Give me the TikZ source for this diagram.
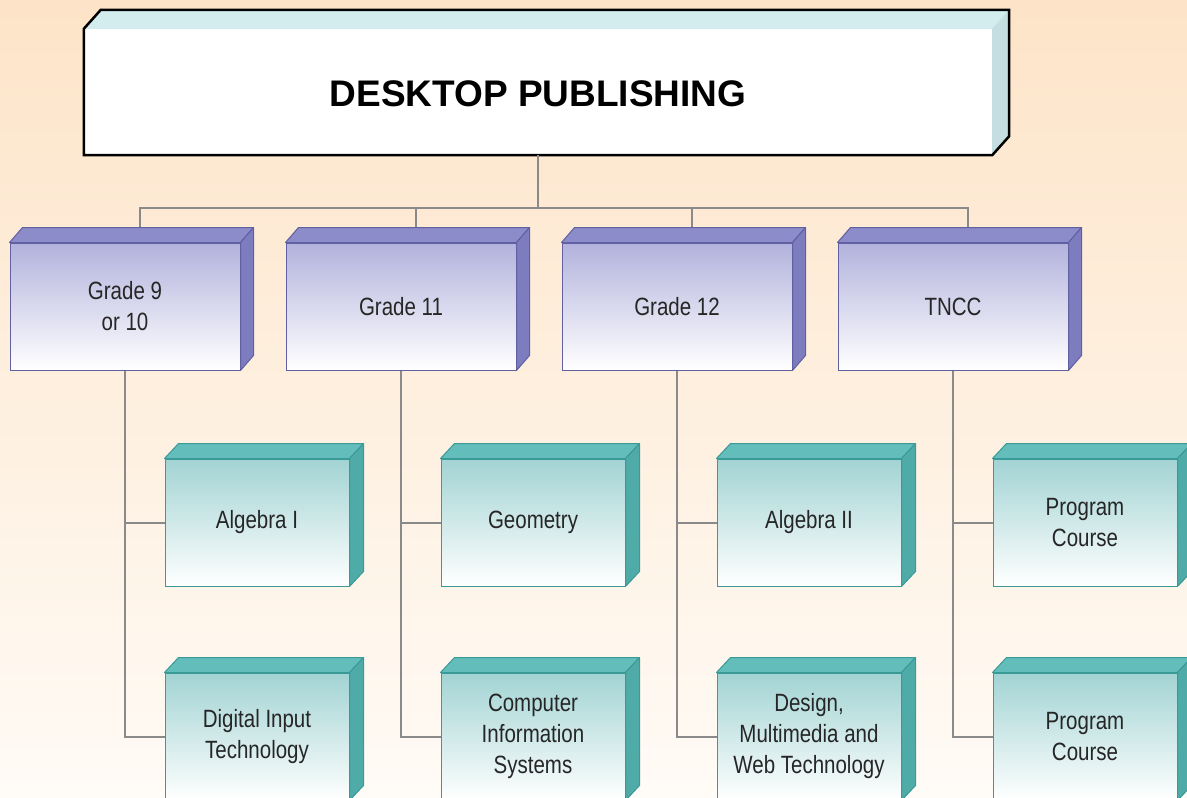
\documentclass[tikz,border=0pt]{standalone}
\usepackage{fontspec}
\setmainfont{Liberation Sans}
\newfontfamily\narrowfont[FakeStretch=0.82]{Liberation Sans}
\usetikzlibrary{calc}
\definecolor{bgtop}{HTML}{FDE4C8}
\definecolor{bgbot}{HTML}{FFFBF6}
\definecolor{gfront}{HTML}{B2B2DD}
\definecolor{gtop}{HTML}{8C8CCB}
\definecolor{gside}{HTML}{7C7CBF}
\definecolor{gline}{HTML}{6060A2}
\definecolor{tfront}{HTML}{A2D3D3}
\definecolor{ttop}{HTML}{63BEBB}
\definecolor{tside}{HTML}{4FABA8}
\definecolor{tline}{HTML}{3A9A97}
\definecolor{conn}{HTML}{8A8A8A}
\definecolor{txt}{HTML}{262626}
\definecolor{boxtop}{HTML}{D3ECEE}
\definecolor{boxside}{HTML}{C4DEE1}
\begin{document}
\begin{tikzpicture}[x=1pt,y=-1pt,
  titlebox/.style={fill=white, inner sep=0pt, minimum width=908pt, minimum height=126pt,
    font=\fontsize{37}{40}\selectfont\bfseries, text=black, text depth=0pt},
  gradebox/.style={draw=gline, line width=1pt, top color=gfront, bottom color=white,
    inner sep=0pt, minimum width=230pt, minimum height=127pt, align=center,
    font=\narrowfont\fontsize{25}{31}\selectfont, text=txt},
  coursebox/.style={draw=tline, line width=1pt, top color=tfront, bottom color=white,
    inner sep=0pt, minimum width=184pt, minimum height=127pt, align=center,
    font=\narrowfont\fontsize{25}{31}\selectfont, text=txt},
  gtopface/.style={fill=gtop, draw=gline, line width=1pt, line join=round},
  gsideface/.style={fill=gside, draw=gline, line width=1pt, line join=round},
  ttopface/.style={fill=ttop, draw=tline, line width=1pt, line join=round},
  tsideface/.style={fill=tside, draw=tline, line width=1pt, line join=round},
  connector/.style={draw=conn, line width=2pt}]
\useasboundingbox (0,0) rectangle (1187,798);
\fill[top color=bgtop, bottom color=bgbot] (0,0) rectangle (1187,798);

% title box
\node[titlebox] (title) at (538,92) {};
\node[font=\fontsize{37}{40}\selectfont\bfseries, text=black, anchor=base] (titletext) at (538,106) {DESKTOP PUBLISHING};
\fill[boxtop] (title.north west) -- ++(17,-19) -- ($(title.north east)+(17,-19)$) -- (title.north east) -- cycle;
\fill[boxside] (title.north east) -- ++(17,-19) -- ($(title.south east)+(17,-19)$) -- (title.south east) -- cycle;
\draw[line width=2.5pt, line join=miter] (title.north west) -- ++(17,-19) -- ($(title.north east)+(17,-19)$)
  -- ($(title.south east)+(17,-19)$) -- (title.south east) -- (title.south west) -- cycle;

% grade box positions
\coordinate (g1p) at (125,306.5);
\coordinate (g2p) at (401,306.5);
\coordinate (g3p) at (677,306.5);
\coordinate (g4p) at (953,306.5);

% connectors from title to grades
\foreach \x in {140,416,692,968} {
  \draw[connector] (title.south) -- ($(title.south)+(0,53)$) -| (\x,229);
}

\node[gradebox] (g1) at (g1p) {Grade 9\\or 10};
\node[gradebox] (g2) at (g2p) {Grade 11};
\node[gradebox] (g3) at (g3p) {Grade 12};
\node[gradebox] (g4) at (g4p) {TNCC};

\node[coursebox] (c11) at (257,522.5) {Algebra I};
\node[coursebox] (c12) at (257,736.5) {Digital Input\\Technology};
\node[coursebox] (c21) at (533,522.5) {Geometry};
\node[coursebox] (c22) at (533,736.5) {Computer\\Information\\Systems};
\node[coursebox] (c31) at (809,522.5) {Algebra II};
\node[coursebox] (c32) at (809,736.5) {Design,\\Multimedia and\\Web Technology};
\node[coursebox] (c41) at (1085,522.5) {Program\\Course};
\node[coursebox] (c42) at (1085,736.5) {Program\\Course};

% connectors grade -> courses
\foreach \g/\a/\b in {g1/c11/c12, g2/c21/c22, g3/c31/c32, g4/c41/c42} {
  \draw[connector] (\g.south) |- (\a.west);
  \draw[connector] (\g.south) |- (\b.west);
}

% 3D faces
\foreach \n in {g1,g2,g3,g4} {
  \filldraw[gtopface] (\n.north west) -- ++(13,-15) -- ($(\n.north east)+(13,-15)$) -- (\n.north east) -- cycle;
  \filldraw[gsideface] (\n.north east) -- ++(13,-15) -- ($(\n.south east)+(13,-15)$) -- (\n.south east) -- cycle;
}
\foreach \n in {c11,c12,c21,c22,c31,c32,c41,c42} {
  \filldraw[ttopface] (\n.north west) -- ++(14,-15) -- ($(\n.north east)+(14,-15)$) -- (\n.north east) -- cycle;
  \filldraw[tsideface] (\n.north east) -- ++(14,-15) -- ($(\n.south east)+(14,-15)$) -- (\n.south east) -- cycle;
}
\end{tikzpicture}
\end{document}
